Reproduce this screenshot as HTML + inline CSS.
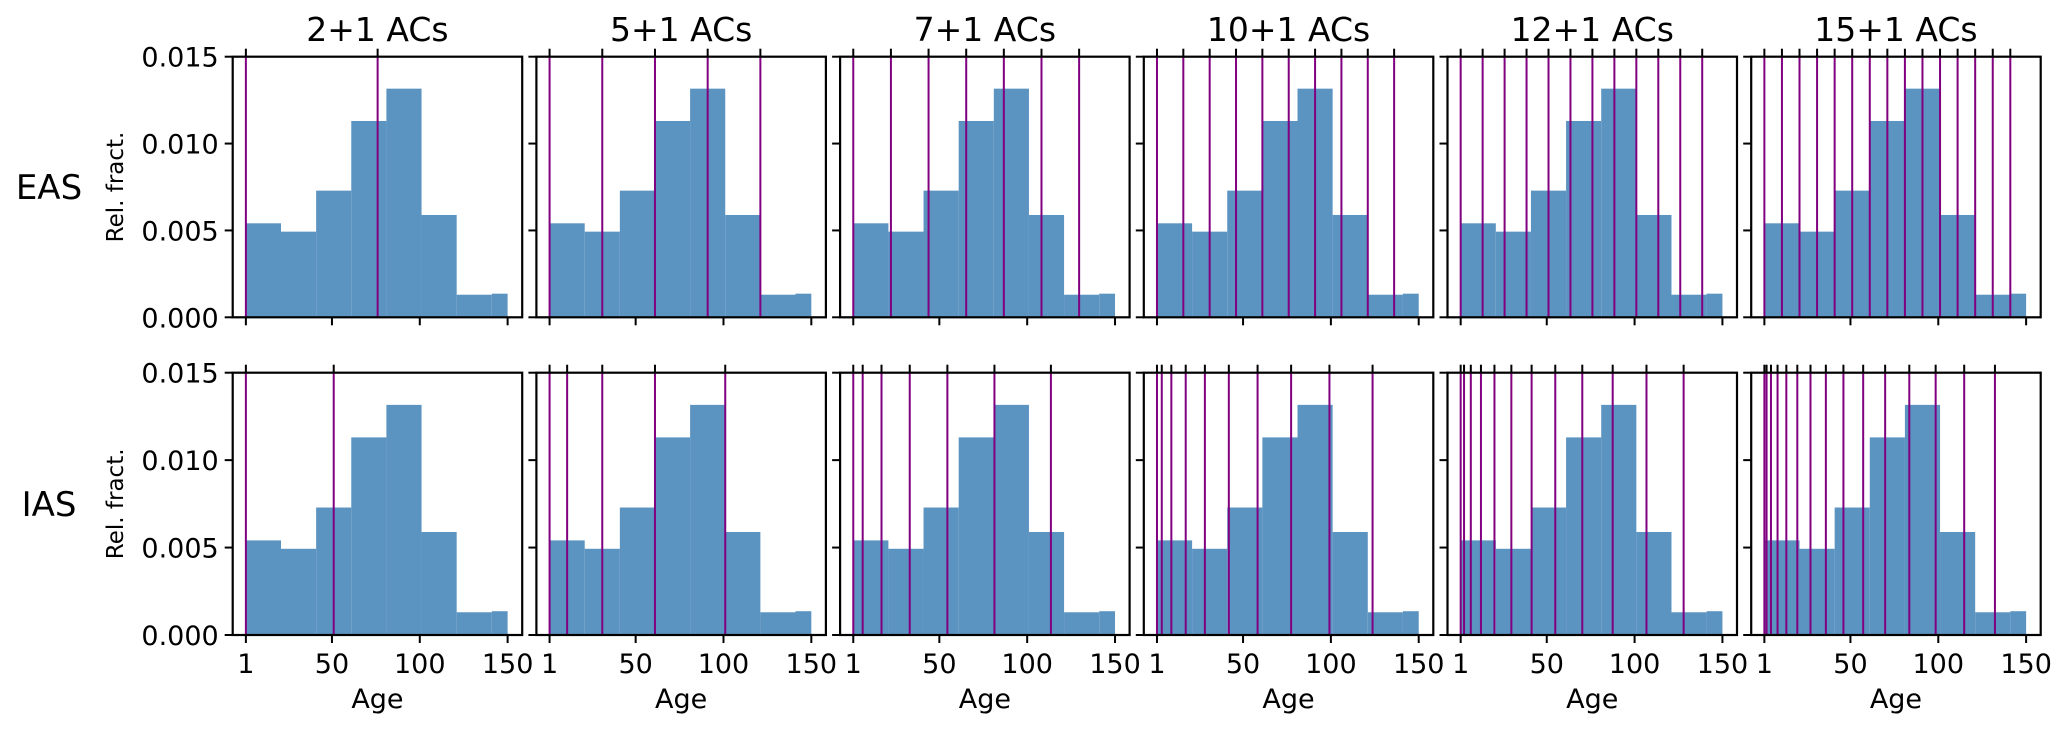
<!DOCTYPE html>
<html><head><meta charset="utf-8"><style>
html,body{margin:0;padding:0;background:#fff;}
svg text{font-family:"DejaVu Sans","Liberation Sans",sans-serif;fill:#000;}
</style></head><body>
<svg id="fig" xmlns="http://www.w3.org/2000/svg" width="2067" height="733" viewBox="0 0 2067 733"></svg>
<script>
const panelTitles = ["2+1 ACs","5+1 ACs","7+1 ACs","10+1 ACs","12+1 ACs","15+1 ACs"];
const rowLabels = ["EAS","IAS"];
const binEdges = [1,21,41,61,81,101,121,141,150];
const binHeights = [0.00541,0.00493,0.00729,0.0113,0.01316,0.00589,0.0013,0.00136];
const xTicks = [1,50,100,150];
const yTicks = [0,0.005,0.010,0.015];
const yTickLabels = ["0.000","0.005","0.010","0.015"];
const easBounds = [
 [1,76],
 [1,31,61,91,121],
 [1,22.43,43.86,65.29,86.71,108.14,129.57],
 [1,16,31,46,61,76,91,106,121,136],
 [1,13.5,26,38.5,51,63.5,76,88.5,101,113.5,126,138.5],
 [1,11,21,31,41,51,61,71,81,91,101,111,121,131,141]
];
const iasBounds = [
 [1,51],
 [1,11,31,61,101],
 [1,6.36,17.07,33.14,54.57,81.36,113.5],
 [1,3.73,9.18,17.36,28.27,41.9,58.27,77.36,99.18,123.73],
 [1,2.92,6.77,12.54,20.23,29.85,41.38,54.85,70.23,87.54,106.77,127.92],
 [1,2.25,4.75,8.5,13.5,19.75,27.25,36,46,57.25,69.75,83.5,98.5,114.75,132.25]
];
const NS="http://www.w3.org/2000/svg";
const svg=document.getElementById('fig');
function mk(tag,attrs,parent){const e=document.createElementNS(NS,tag);for(const k in attrs)e.setAttribute(k,attrs[k]);(parent||svg).appendChild(e);return e;}
const PW=289.5, PH=[260.6,262.3], stride=303.7, left0=232.7, tops=[56.7,372.7];
const xmin=-6.5, xmax=158.3, ymax=0.015;
for(let r=0;r<2;r++){
  const top=tops[r], h=PH[r], bottom=top+h;
  const rl=mk('text',{x:49,y:top+h/2+12,'font-size':34,'text-anchor':'middle'});
  rl.textContent=rowLabels[r];
  
  
  const yl=mk('text',{x:0,y:0,'font-size':23,'text-anchor':'middle',transform:`translate(123,${top+h/2}) rotate(-90)`});
  yl.textContent='Rel. fract.';
  
  
  for(let c=0;c<6;c++){
    const L=left0+c*stride;
    const g=mk('g',{});
    
    
    const X=v=>L+(v-xmin)/(xmax-xmin)*PW;
    const Y=v=>bottom-v/ymax*h;
    for(let i=0;i<binHeights.length;i++){
      const b=mk('rect',{x:X(binEdges[i]),y:Y(binHeights[i]),width:X(binEdges[i+1])-X(binEdges[i]),height:bottom-Y(binHeights[i]),fill:'#5b93c1'},g);
      
      
    }
    const bounds=(r===0?easBounds:iasBounds)[c];
    bounds.forEach(v=>{
      const ln=mk('line',{x1:X(v),x2:X(v),y1:top,y2:bottom,stroke:'#800080','stroke-width':2},g);
      
      
      mk('line',{x1:X(v),x2:X(v),y1:top,y2:top-8,stroke:'#000','stroke-width':2},g);
    });
    const fr=mk('rect',{x:L,y:top,width:PW,height:h,fill:'none',stroke:'#000','stroke-width':2.2},g);
    
    
    xTicks.forEach(v=>{
      mk('line',{x1:X(v),x2:X(v),y1:bottom,y2:bottom+8,stroke:'#000','stroke-width':2},g);
      if(r===1){
        const t=mk('text',{x:X(v),y:673,'font-size':27,'text-anchor':'middle'},g);
        t.textContent=String(v);
        
        
      }
    });
    yTicks.forEach((v,i)=>{
      mk('line',{x1:L,x2:L-8,y1:Y(v),y2:Y(v),stroke:'#000','stroke-width':2},g);
      if(c===0){
        const t=mk('text',{x:L-14,y:Y(v)+10,'font-size':27,'text-anchor':'end'},g);
        t.textContent=yTickLabels[i];
        
        
      }
    });
    if(r===0){
      const t=mk('text',{x:L+PW/2,y:41,'font-size':33,'text-anchor':'middle'},g);
      t.textContent=panelTitles[c];
      
      
    } else {
      const t=mk('text',{x:L+PW/2,y:708,'font-size':27,'text-anchor':'middle'},g);
      t.textContent='Age';
      
      
    }
  }
}
</script>
</body></html>
